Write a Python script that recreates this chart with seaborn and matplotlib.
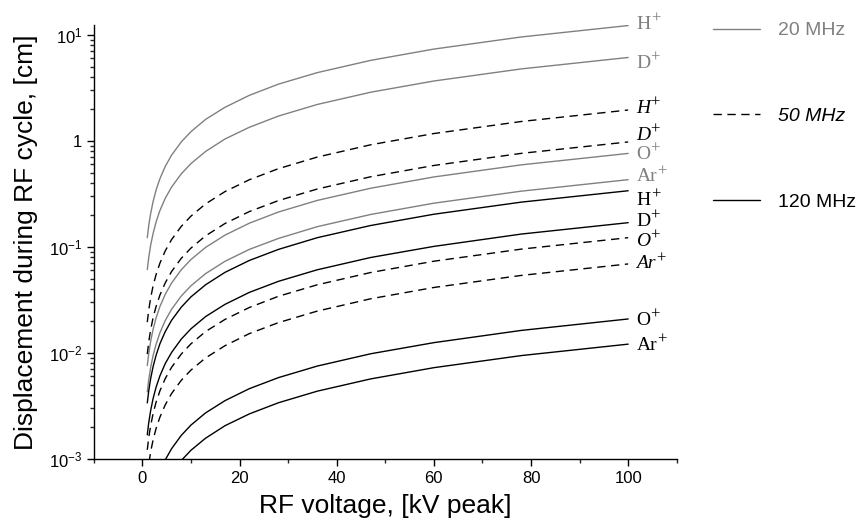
import numpy as np
import pandas as pd
import matplotlib
matplotlib.use('Agg')
import matplotlib.pyplot as plt
import seaborn as sns
from matplotlib.lines import Line2D
from matplotlib.ticker import FixedLocator, LogLocator, FuncFormatter, MultipleLocator

# RF voltage, kV peak
voltage = [1, 1.3, 1.7, 2.2, 2.8, 3.6, 4.7, 6, 8, 10, 13, 17, 22, 28, 36, 47, 60, 78, 100]

# displacement [cm], 20 MHz
h_20 = [0.122, 0.159, 0.207, 0.268, 0.342, 0.439, 0.573, 0.732, 0.976, 1.22, 1.59, 2.07, 2.68, 3.42, 4.39, 5.73, 7.32, 9.52, 12.2]
d_20 = [0.061, 0.0793, 0.104, 0.134, 0.171, 0.22, 0.287, 0.366, 0.488, 0.61, 0.793, 1.04, 1.34, 1.71, 2.2, 2.87, 3.66, 4.76, 6.1]
o_20 = [0.0076, 0.00988, 0.0129, 0.0167, 0.0213, 0.0274, 0.0357, 0.0456, 0.0608, 0.076, 0.0988, 0.129, 0.167, 0.213, 0.274, 0.357, 0.456, 0.593, 0.76]
ar_20 = [0.0043, 0.00559, 0.00731, 0.00946, 0.012, 0.0155, 0.0202, 0.0258, 0.0344, 0.043, 0.0559, 0.0731, 0.0946, 0.12, 0.155, 0.202, 0.258, 0.335, 0.43]

# 50 MHz
h_50 = [0.0195, 0.0254, 0.0332, 0.0429, 0.0546, 0.0702, 0.0917, 0.117, 0.156, 0.195, 0.254, 0.332, 0.429, 0.546, 0.702, 0.917, 1.17, 1.52, 1.95]
d_50 = [0.00975, 0.0127, 0.0166, 0.0215, 0.0273, 0.0351, 0.0458, 0.0585, 0.078, 0.0975, 0.127, 0.166, 0.215, 0.273, 0.351, 0.458, 0.585, 0.761, 0.975]
o_50 = [0.00122, 0.00159, 0.00207, 0.00268, 0.00342, 0.00439, 0.00573, 0.00732, 0.00976, 0.0122, 0.0159, 0.0207, 0.0268, 0.0342, 0.0439, 0.0573, 0.0732, 0.0952, 0.122]
ar_50 = [0.00069, 0.000897, 0.00117, 0.00152, 0.00193, 0.00248, 0.00324, 0.00414, 0.00552, 0.0069, 0.00897, 0.0117, 0.0152, 0.0193, 0.0248, 0.0324, 0.0414, 0.0538, 0.069]

# 120 MHz
h_120 = [0.00338, 0.00439, 0.00575, 0.00744, 0.00946, 0.0122, 0.0159, 0.0203, 0.027, 0.0338, 0.0439, 0.0575, 0.0744, 0.0946, 0.122, 0.159, 0.203, 0.264, 0.338]
d_120 = [0.00169, 0.0022, 0.00287, 0.00372, 0.00473, 0.00608, 0.00794, 0.0101, 0.0135, 0.0169, 0.022, 0.0287, 0.0372, 0.0473, 0.0608, 0.0794, 0.101, 0.132, 0.169]
o_120 = [0.000209, 0.000272, 0.000355, 0.00046, 0.000585, 0.000752, 0.000982, 0.00125, 0.00167, 0.00209, 0.00272, 0.00355, 0.0046, 0.00585, 0.00752, 0.00982, 0.0125, 0.0163, 0.0209]
ar_120 = [0.000121, 0.000157, 0.000206, 0.000266, 0.000339, 0.000436, 0.000569, 0.000726, 0.000968, 0.00121, 0.00157, 0.00206, 0.00266, 0.00339, 0.00436, 0.00569, 0.00726, 0.00944, 0.0121]

ions = ['H', 'D', 'O', 'Ar']
frequencies = ['20 MHz', '50 MHz', '120 MHz']
curves = {
    '20 MHz': [h_20, d_20, o_20, ar_20],
    '50 MHz': [h_50, d_50, o_50, ar_50],
    '120 MHz': [h_120, d_120, o_120, ar_120],
}

sns.set_theme(style='ticks')
plt.rcParams['font.family'] = ['Liberation Sans', 'DejaVu Sans']
plt.rcParams['mathtext.fontset'] = 'custom'
plt.rcParams['mathtext.rm'] = 'Liberation Sans'
plt.rcParams['mathtext.it'] = 'Liberation Sans:italic'
plt.rcParams['mathtext.sf'] = 'Liberation Sans'

grey = '#808080'
style = {
    '20 MHz': dict(color=grey, linestyle='-', italic=False),
    '50 MHz': dict(color='black', linestyle=(0, (6, 4)), italic=True),
    '120 MHz': dict(color='black', linestyle='-', italic=False),
}
# small vertical nudges (points) so the end labels do not collide
nudge = {('20 MHz', 'H'): 2, ('20 MHz', 'D'): -3, ('50 MHz', 'H'): 2, ('50 MHz', 'D'): 6,
         ('20 MHz', 'Ar'): 3, ('120 MHz', 'H'): -6, ('50 MHz', 'Ar'): 1,
         ('120 MHz', 'D'): 2, ('50 MHz', 'O'): -1.5}

fig = plt.figure(figsize=(8.61, 5.31), dpi=100)
ax = fig.add_axes([0.109, 0.1356, 0.677, 0.817])

for freq in frequencies:
    st = style[freq]
    for ion, vals in zip(ions, curves[freq]):
        df = pd.DataFrame({'V': voltage, 'disp': vals})
        sns.lineplot(data=df, x='V', y='disp', ax=ax, color=st['color'],
                     linestyle=st['linestyle'], linewidth=1.0, legend=False)
        base = ax.annotate(ion, xy=(voltage[-1], vals[-1]),
                           xytext=(6, nudge.get((freq, ion), 0) - 1), textcoords='offset points',
                           va='center', ha='left', fontsize=14, color=st['color'],
                           family='Liberation Serif',
                           style='italic' if st['italic'] else 'normal',
                           annotation_clip=False)
        ax.annotate('+', xy=(1.0, 1.0), xycoords=base, xytext=(0, -2),
                    textcoords='offset points', va='center', ha='left',
                    fontsize=12, color=st['color'], family='Liberation Serif')

ax.set_yscale('log')
ax.set_xlim(-10, 110)
ax.set_ylim(1e-3, 12.3)
ax.xaxis.set_major_locator(FixedLocator([0, 20, 40, 60, 80, 100]))
ax.xaxis.set_minor_locator(MultipleLocator(10))
ax.yaxis.set_major_locator(FixedLocator([1e-3, 1e-2, 1e-1, 1, 10]))
ax.yaxis.set_minor_locator(LogLocator(base=10, subs=np.arange(2, 10)))


def ylab(v, pos):
    if abs(v - 1) < 1e-9:
        return '1'
    return r'$\mathsf{10^{%d}}$' % int(round(np.log10(v)))


ax.yaxis.set_major_formatter(FuncFormatter(ylab))
ax.yaxis.set_minor_formatter(FuncFormatter(lambda v, p: ''))

ax.tick_params(which='major', direction='out', length=5, width=1, labelsize=12, colors='black')
ax.tick_params(which='minor', direction='out', length=3, width=1)
sns.despine(ax=ax)
for s in ['left', 'bottom']:
    ax.spines[s].set_color('black')
    ax.spines[s].set_linewidth(1.0)

ax.set_xlabel('RF voltage, [kV peak]', fontsize=19, color='black', labelpad=6)
ax.set_ylabel('Displacement during RF cycle, [cm]', fontsize=19, color='black', labelpad=8)
ax.grid(False)

handles = [Line2D([], [], color=style[f]['color'], linestyle=style[f]['linestyle'], linewidth=1.0)
           for f in frequencies]
leg = fig.legend(handles, frequencies, loc='upper left', bbox_to_anchor=(0.828, 0.959),
                 frameon=False, fontsize=14, handlelength=2.42, handletextpad=0.93,
                 labelspacing=3.5, borderpad=0, borderaxespad=0)
for t, f in zip(leg.get_texts(), frequencies):
    t.set_color(style[f]['color'])
    if style[f]['italic']:
        t.set_fontstyle('italic')

fig.savefig('out.png', dpi=100)
